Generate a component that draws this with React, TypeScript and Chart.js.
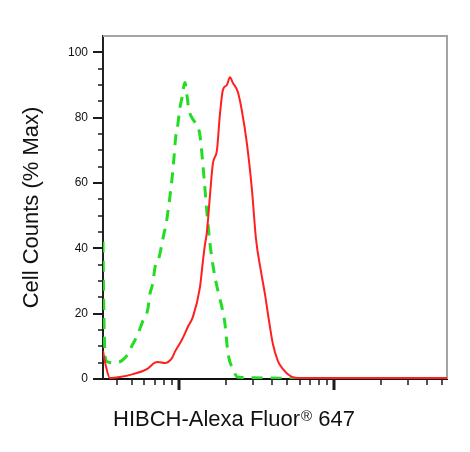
import { useEffect, useRef } from "react"
import Chart from "chart.js/auto"

// fluorescence intensity (log axis) and % of max counts
const redX = [324, 338, 359, 416, 505, 622, 700, 732, 812, 902, 942, 1046, 1143, 1231, 1366, 1428, 1471, 1516, 1585, 1657, 1759, 1839, 1923, 2040, 2133, 2231, 2403, 2550, 2747, 2958, 3140, 3381, 3589, 3806, 4039, 4352, 4688, 5202, 5770, 53580]
const redY = [8.6, 4, 0.3, 0.6, 1.5, 3, 5, 5.2, 4.9, 6.4, 8.3, 12, 16, 19, 28, 36, 41, 45, 56, 66, 70, 81, 88.5, 90, 92.4, 90.6, 87.8, 82, 72, 58, 43, 33, 26, 18, 10.7, 5.5, 3, 1, 0.3, 0.3]

const greenX = [324, 328, 338, 386, 448, 505, 544, 586, 631, 650, 680, 700, 743, 789, 837, 915, 956, 985, 1015, 1046, 1093, 1126, 1160, 1213, 1307, 1366, 1450, 1516, 1585, 1682, 1812, 1894, 1981, 2071, 2232, 2403, 53580]
const greenY = [42, 20, 5.5, 4.9, 6.4, 10.7, 13.8, 17.8, 21.5, 26, 29.5, 34, 37, 43, 49, 64, 74.5, 78, 83, 86, 90.8, 87, 82.5, 80, 77.6, 74.7, 62, 51, 41.6, 33, 25.7, 22, 17, 8, 3, 0.5, 0]

const xMin = 324
const xMax = 53580
const yMin = 0
const yMax = 105
const yLabelStep = 20
const yMinorStep = 5

const yTitle = "Cell Counts (% Max)"
const xTitle = "HIBCH-Alexa Fluor"
const xTitleMark = "®"
const xTitleTail = " 647"

const FONT = "'Liberation Sans', Arial, sans-serif"

const toPoints = (xs: number[], ys: number[]) => xs.map((x, i) => ({ x, y: ys[i] }))

// frame, tick marks and the x title with its small registered mark
const decorations = {
  id: "decorations",
  beforeDatasetsDraw(chart: any) {
    const { ctx, chartArea } = chart
    ctx.save()
    ctx.strokeStyle = "#a3a3a3"
    ctx.lineWidth = 2
    ctx.beginPath()
    ctx.moveTo(chartArea.left, chartArea.top)
    ctx.lineTo(chartArea.right, chartArea.top)
    ctx.lineTo(chartArea.right, chartArea.bottom)
    ctx.stroke()
    ctx.restore()
  },
  afterDraw(chart: any) {
    const { ctx, chartArea, scales } = chart
    const xs = scales.x
    const ys = scales.y
    ctx.save()
    ctx.strokeStyle = "#1a1a1a"

    for (let v = yMin; v <= 100; v += yMinorStep) {
      const major = v % yLabelStep === 0
      const py = Math.round(ys.getPixelForValue(v))
      ctx.lineWidth = major ? 2 : 1.5
      ctx.beginPath()
      ctx.moveTo(chartArea.left, py)
      ctx.lineTo(chartArea.left - (major ? 10 : 5), py)
      ctx.stroke()
    }

    const e0 = Math.floor(Math.log10(xMin))
    const e1 = Math.ceil(Math.log10(xMax))
    for (let e = e0; e <= e1; e++) {
      for (let s = 1; s <= 9; s++) {
        const v = s * Math.pow(10, e)
        if (v <= xMin || v >= xMax) continue
        const major = s === 1
        const px = Math.round(xs.getPixelForValue(v))
        ctx.lineWidth = major ? 3 : 1.5
        ctx.beginPath()
        ctx.moveTo(px, chartArea.bottom)
        ctx.lineTo(px, chartArea.bottom + (major ? 11 : 6))
        ctx.stroke()
      }
    }

    ctx.fillStyle = "#111"
    ctx.textBaseline = "alphabetic"
    ctx.textAlign = "left"
    const x0 = 113
    const base = 426
    ctx.font = `22px ${FONT}`
    ctx.fillText(xTitle, x0, base)
    let x1 = x0 + ctx.measureText(xTitle).width + 1
    ctx.font = `15px ${FONT}`
    ctx.fillText(xTitleMark, x1, base - 5)
    x1 += ctx.measureText(xTitleMark).width
    ctx.font = `22px ${FONT}`
    ctx.fillText(xTitleTail, x1, base)
    ctx.restore()
  },
}

const HistogramChart = () => {
  const chartRef = useRef<HTMLCanvasElement>(null)
  const chartInstance = useRef<Chart | null>(null)

  useEffect(() => {
    if (!chartRef.current) return
    if (chartInstance.current) chartInstance.current.destroy()

    const ctx = chartRef.current.getContext("2d")
    if (!ctx) return

    chartInstance.current = new Chart(ctx, {
      type: "line",
      data: {
        datasets: [
          {
            label: "HIBCH",
            data: toPoints(redX, redY),
            borderColor: "#ff1f1f",
            borderWidth: 2,
            pointRadius: 0,
            cubicInterpolationMode: "monotone",
            fill: false,
          },
          {
            label: "Isotype",
            data: toPoints(greenX, greenY),
            borderColor: "#22dd22",
            borderWidth: 3,
            borderDash: [11, 8],
            pointRadius: 0,
            cubicInterpolationMode: "monotone",
            fill: false,
          },
        ],
      },
      plugins: [decorations],
      options: {
        responsive: false,
        animation: false,
        events: [],
        layout: { padding: { left: 0, right: 23, top: 36, bottom: 73 } },
        plugins: {
          legend: { display: false },
          tooltip: { enabled: false },
          title: { display: false },
        },
        scales: {
          x: {
            type: "logarithmic",
            min: xMin,
            max: xMax,
            grid: { display: false },
            border: { display: true, color: "#111", width: 2 },
            ticks: { display: false },
            afterFit: (scale: any) => {
              scale.height = 0
            },
          },
          y: {
            type: "linear",
            min: yMin,
            max: yMax,
            grid: { display: false, drawTicks: false },
            border: { display: true, color: "#222", width: 2 },
            ticks: {
              stepSize: yLabelStep,
              includeBounds: false,
              padding: 15,
              color: "#111",
              font: { family: FONT, size: 12 },
            },
            title: {
              display: true,
              text: yTitle,
              color: "#111",
              font: { family: FONT, size: 22 },
              padding: { top: 19, bottom: 0 },
            },
            afterFit: (scale: any) => {
              scale.width = 103
            },
          },
        },
      },
    })

    return () => {
      if (chartInstance.current) {
        chartInstance.current.destroy()
        chartInstance.current = null
      }
    }
  }, [])

  return <canvas ref={chartRef} width={470} height={452} />
}

export default function App() {
  return (
    <div style={{ position: "fixed", left: 0, top: 0, width: 470, height: 452, background: "#fff" }}>
      <HistogramChart />
    </div>
  )
}
